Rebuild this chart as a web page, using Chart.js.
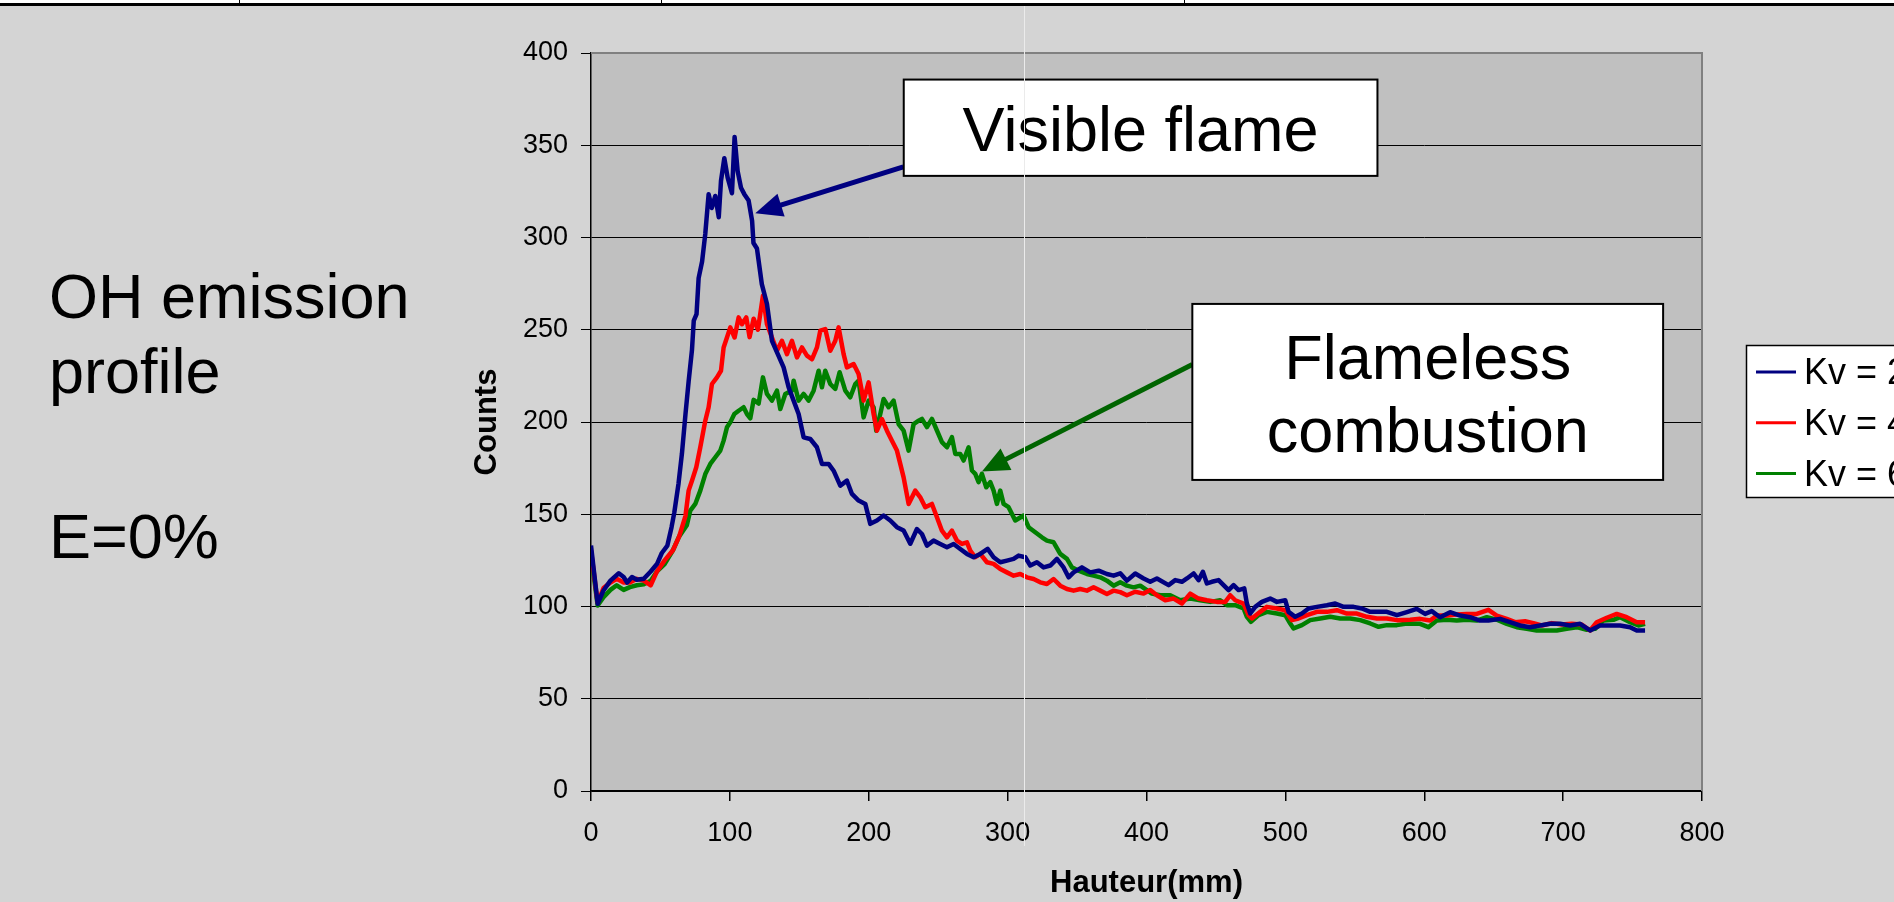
<!DOCTYPE html>
<html lang="fr">
<head>
<meta charset="UTF-8">
<title>OH emission profile</title>
<script src="https://cdn.jsdelivr.net/npm/chart.js"></script>
<style>
  html, body { margin: 0; padding: 0; }
  body {
    width: 1894px; height: 902px; overflow: hidden; position: relative;
    background: #d4d4d4;
    font-family: "Liberation Sans", Arial, sans-serif;
  }
  #topStrip { position: absolute; left: 0; top: 0; width: 1894px; height: 3px; background: #fff; }
  #topLine { position: absolute; left: 0; top: 3px; width: 1894px; height: 3px; background: #000; }
  .cellEdge { position: absolute; top: 0; width: 1px; height: 4px; background: #000; }
  #chartBox { position: absolute; left: 0; top: 0; width: 1894px; height: 902px; }
  .side { position: absolute; left: 49px; font-size: 63px; line-height: 75px; color: #000; white-space: nowrap; }
  #seam { position: absolute; left: 1024px; top: 6px; width: 1px; height: 840px; background: #ebebeb; }
</style>
</head>
<body>
  <div id="topStrip"></div>
  <div id="topLine"></div>
  <div class="cellEdge" style="left:239px"></div>
  <div class="cellEdge" style="left:661px"></div>
  <div class="cellEdge" style="left:1184px"></div>

  <div class="side" style="top:259px">OH emission<br>profile</div>
  <div class="side" style="top:499px">E=0%</div>

  <div id="chartBox"><canvas id="ohChart"></canvas></div>
  <div id="seam"></div>

<script>
// series labels and colours
const seriesNames = ['Kv = 2', 'Kv = 4', 'Kv = 6'];
const seriesColors = ['#000080', '#ff0000', '#008000'];

// Kv = 2
const kv2X = [0,4.8,9,14,20,23.5,26,29.5,33,38,43,47.5,51,55,58,60,63,65.5,68,70.3,72.7,74,76,77.5,80,82.3,84.7,87,89.5,92,93.6,96,98.4,101.5,103.4,105.6,108,110.4,113.5,116,117,119.5,123,126.7,130.3,138.7,142.3,145.9,149.5,153.1,157.9,162.7,166.3,171.1,174.7,179.5,184.3,187.9,192.7,197.5,201.1,205.9,210.7,215.5,220.3,225.1,229.9,234.7,238.3,241.9,246.7,251.5,256.3,261.1,265.9,270.7,275.5,280.3,285.6,289.9,294.7,299.5,304.3,307.9,312.7,316.3,321.1,325.9,330.7,335.5,340.3,343.9,347.5,353.5,359.5,365.5,371.5,376.3,381.1,385.9,391.9,397.9,402.7,407.5,415.9,420.7,425.5,429.1,433.9,437.5,440.6,443.5,447.1,451.9,455.5,459.1,462.7,466.3,470.4,472.3,474.7,478.3,483.1,489.1,493.9,499.9,502.3,507.1,511.9,516.7,522.7,529.9,535.9,541.9,549.1,555.1,561.1,567.1,573.1,580.3,587.5,594.6,600.6,605.4,611.4,618.6,625.8,633,640.2,646.2,654.6,661.8,669,676.2,683.4,690.6,697.8,705,712.2,719.4,726.6,733.8,741,748.2,753,759];
const kv2Y = [133,101.5,108.7,114,118,116,113,116,114.5,115,119,123,129,133,143,151,166.5,183,204,222,239,255,258.5,278,287,302,323.5,316,322.5,311,330.7,343,332.5,324,354.5,336,327,323.5,320,309,297,294,274.7,264,244,229.6,218.8,211.6,204.3,191.7,190.8,186.3,177.3,177.3,173.6,165.5,168.2,161,157.4,155.6,144.8,146.6,149.3,146.6,143,141.2,134,142,139.3,133,135.7,133.9,132.1,133.9,131.2,128.5,126.7,128.5,131.2,126.7,124,124.9,125.8,127.6,126.7,122.2,124,121.2,122.2,125.8,121.2,115.8,118.5,121.2,118.5,119.4,117.6,116.7,118,114,117.9,115.2,113.4,115.2,111.6,114.3,113.4,115.2,117.9,114.3,118.8,112.5,113.4,114.3,111.6,108.9,111.6,108.9,109.8,101.6,96.2,99.8,102.5,104.3,102.5,103.4,97.1,94.4,96.2,98.9,99.8,100.7,101.6,99.8,99.8,98.9,97.1,97.1,97.1,95.3,97,98.7,96,97.5,94.2,96.9,95.1,94.2,92.4,92.4,93.3,91.5,89.7,88.8,89.7,90.6,90.6,89.7,90.6,87,89.7,89.7,89.7,88.8,87,87];

// Kv = 4
const kv4X = [0,4.8,9,14,18.5,23.5,28,33,38,43,47.5,53,59,63.5,68,70.3,72.7,75.8,78.7,82.3,84.7,87.1,90.7,93.6,95.5,97.9,100.3,103.4,106.3,108.7,111.8,114.2,117.1,120.2,123.8,126.7,130.3,133.9,137.5,141.1,144.7,148.3,151.9,155.5,159.1,162.7,165.1,168.7,172.3,175.9,178.3,181.9,184.3,189.1,192.7,196.3,199.9,203.5,205.9,209.5,213.1,216.7,220.3,222.7,225.1,228.7,233.5,237.1,240.7,245.5,249.1,252.7,256.3,259.9,263.5,267.1,270.7,273.1,276.7,280.3,285.1,289.9,294.7,299.5,304.3,309.1,313.9,318.7,323.5,328.3,333.1,337.9,342.7,347.5,352.3,357.1,361.9,366.7,371.5,376.3,381.1,385.9,391.9,397.9,402.7,407.5,413.5,419.5,425.5,431.5,437.5,443.5,450.7,456.7,460.3,463.9,469.9,473.5,475.9,481.9,486.7,493.9,499.9,504.7,509.5,515.5,522.7,529.9,537.1,544.3,551.5,558.7,565.9,573.1,580.3,589.8,597,604.2,609,616.2,623.4,630.6,637.8,646.2,652.2,659.4,665.4,672.6,678.6,684.6,691.8,699,706.2,713.4,719.4,724.2,731.4,738.6,745.8,753,759];
const kv4Y = [130.5,102,110,113,115,113,113,115,114,111.5,119,125,130.5,138,149,162.8,168.2,175.5,186.3,200.7,208,220.6,224.2,227.8,240.4,245.8,251.3,245.8,256.7,253,256.7,246,256,250,268.4,253,245.8,238.6,244,236.8,244,235,240.4,236,234,240.4,249.5,250.4,238.6,244,251.3,236.8,229.6,231.4,226,211.6,221.5,204.3,195.3,201.6,195.3,189.9,184.5,177.3,170,155.6,162.8,159.2,153.8,155.6,148.4,141.1,137.5,141.1,135.7,133.9,134.8,130.3,126.7,128.5,124,123.1,120.3,118.5,116.7,117.6,115.8,114.9,113.1,112.2,114.9,111.3,109.5,108.6,109.5,108.6,110.4,108.6,106.8,108.6,107.8,106.1,108,107,108.9,106.1,103.4,104.3,101.6,107,104.3,103.4,102.5,102.5,106.1,103.4,101.6,95.3,93.5,97.1,99.8,98.9,98,92.6,93.5,95.3,97.1,97.1,98,96.2,96.2,94.4,93.5,93.5,92.6,92.8,93.3,92.4,95.1,95.1,95.7,96,96,98.2,95.1,93.3,91.5,92,91,89.7,91,90.2,90.6,90.2,87,91.5,93.9,96,94.2,91.5,91.5];

// Kv = 6
const kv6X = [0,4.8,9,14,18.5,23.5,28,33,38,43,47.5,53,59,63.5,69,71.5,75.1,78.7,82.3,85.9,89.5,93.1,95.5,97.9,100.3,103.2,106.3,109.9,112.3,114.7,117.1,120.7,123.8,126.7,130.3,133.9,136.3,139.9,144.7,145.9,149.5,153.1,156.7,160.3,163.9,166.3,168.7,172.3,175.9,179,183.1,186.7,190.3,192.7,196.3,199.9,203.5,205.4,208.3,210.7,214.3,217.9,221.5,225.1,228.7,232.3,235.9,238.3,241.9,245.5,249.1,252.7,256.3,259.9,262.3,265.9,268.3,271.9,274.3,276.7,279.1,281.5,284.6,287.5,289.9,292.3,294.7,297.1,300.7,305.5,311.5,315.1,319.9,324.7,328.3,333.1,337.9,342.7,346.3,351.1,357.1,361.9,366.7,371.5,376.3,381.1,385.9,390.7,395.5,403.9,409.9,417.1,424.3,431.5,438.7,445.9,453.1,457.9,463.9,469.9,472.3,475.2,480.7,486.7,493.9,499.9,503.5,505.9,511.9,517.9,525.1,532.3,539.5,546.7,553.9,561.1,567.1,573.1,580.3,587.5,597,603,609,616.2,623.4,630.6,637.8,645,652.2,659.4,666.6,673.8,681,688.2,695.4,702.6,709.8,717,723,729,736.2,741,748.2,754.2,759];
const kv6Y = [128,100.5,105,109,111.5,109,110.5,111.5,112,114,119,123,130.5,138,144,152,155.6,162.8,171.8,177.3,180.9,184.5,189.9,197.1,199.8,204.3,206.1,208,204.3,202,212,210,224.2,215.2,211.6,217,207,215.2,217,222.4,211.6,215.2,211.6,217,227.8,218.8,227.8,220.6,217.9,227,217,213.4,220.6,222.4,202.5,211.6,208,195.3,204.3,212.5,208,211.6,198.9,195.3,184.5,198.9,200.7,201.7,197.2,201.7,195.4,189.1,186.3,191.8,182.7,182.7,179.1,186.3,173.7,171.9,167.4,171.9,164.6,167.4,162.8,155.6,162.8,155.6,153.8,146.6,149.3,143,140.2,137.5,135.7,134.8,128.5,125.8,121.2,119.4,117.6,116.7,115.8,114,111.3,113.1,111.3,110.4,111.3,107,106.1,106.1,103.4,104.3,103.4,102.5,103.4,100.7,100.7,98.9,94.4,91.7,95.3,97.1,96.2,95.3,90.8,88.1,89.9,92.6,93.5,94.4,93.5,93.5,92.6,90.8,89,89.9,89.9,90.8,90.6,88.8,92.4,92.8,92.4,92.8,92.4,94.2,92.8,90.6,88.8,87.9,87,87,87,87.9,88.8,87.4,87.9,92.4,92.8,94.2,91.5,89.7,90.6];

// axis ticks
const xTicks = [0, 100, 200, 300, 400, 500, 600, 700, 800];
const yTicks = [0, 50, 100, 150, 200, 250, 300, 350, 400];

// callouts, in data units
const callouts = [
  { lines: ['Visible flame'], x0: 225.2, x1: 566.3, y0: 385.6, y1: 333.4,
    arrow: { from: [224.9, 338.3], to: [118.3, 313.2], color: '#000080' } },
  { lines: ['Flameless', 'combustion'], x0: 433.0, x1: 772.0, y0: 264.0, y1: 168.6,
    arrow: { from: [433.0, 231.2], to: [281.5, 173.2], color: '#006400' } }
];

const FONT = '"Liberation Sans", Arial, sans-serif';

function toPoints(xs, ys) {
  return xs.map((x, i) => ({ x: x, y: ys[i] }));
}

const plotFrame = {
  id: 'plotFrame',
  beforeDraw(chart) {
    const a = chart.chartArea, ctx = chart.ctx;
    ctx.save();
    ctx.fillStyle = '#c0c0c0';
    ctx.fillRect(a.left, a.top, a.right - a.left, a.bottom - a.top);
    ctx.restore();
  },
  beforeDatasetsDraw(chart) {
    const a = chart.chartArea, ctx = chart.ctx;
    ctx.save();
    ctx.strokeStyle = '#808080';
    ctx.lineWidth = 2;
    ctx.beginPath();
    ctx.moveTo(a.left, a.top);
    ctx.lineTo(a.right, a.top);
    ctx.lineTo(a.right, a.bottom);
    ctx.stroke();
    ctx.restore();
  }
};

function drawArrow(ctx, x1, y1, x2, y2, color) {
  const dx = x2 - x1, dy = y2 - y1;
  const len = Math.hypot(dx, dy);
  const ux = dx / len, uy = dy / len;
  const headLen = 27, headHalf = 12;
  const bx = x2 - ux * headLen, by = y2 - uy * headLen;
  ctx.strokeStyle = color;
  ctx.fillStyle = color;
  ctx.lineWidth = 5;
  ctx.beginPath();
  ctx.moveTo(x1, y1);
  ctx.lineTo(bx + ux * 2, by + uy * 2);
  ctx.stroke();
  ctx.beginPath();
  ctx.moveTo(x2, y2);
  ctx.lineTo(bx - uy * headHalf, by + ux * headHalf);
  ctx.lineTo(bx + uy * headHalf, by - ux * headHalf);
  ctx.closePath();
  ctx.fill();
}

const extras = {
  id: 'extras',
  afterDraw(chart) {
    const ctx = chart.ctx, xs = chart.scales.x, ys = chart.scales.y;
    ctx.save();
    // callout boxes and arrows
    callouts.forEach(c => {
      const a = c.arrow;
      drawArrow(ctx, xs.getPixelForValue(a.from[0]), ys.getPixelForValue(a.from[1]),
        xs.getPixelForValue(a.to[0]), ys.getPixelForValue(a.to[1]), a.color);
      const l = xs.getPixelForValue(c.x0), r = xs.getPixelForValue(c.x1);
      const t = ys.getPixelForValue(c.y0), b = ys.getPixelForValue(c.y1);
      ctx.fillStyle = '#fff';
      ctx.fillRect(l, t, r - l, b - t);
      ctx.strokeStyle = '#000';
      ctx.lineWidth = 2;
      ctx.strokeRect(l, t, r - l, b - t);
      ctx.fillStyle = '#000';
      ctx.font = '63px ' + FONT;
      ctx.textAlign = 'center';
      ctx.textBaseline = 'middle';
      const lh = 73, cy = (t + b) / 2 - (c.lines.length - 1) * lh / 2;
      c.lines.forEach((s, i) => ctx.fillText(s, (l + r) / 2, cy + i * lh + 6));
    });

    // legend (runs off the right edge like the original)
    const lx = 1746, ly = 345, lw = 200, lh = 152;
    ctx.fillStyle = '#fff';
    ctx.fillRect(lx, ly, lw, lh);
    ctx.strokeStyle = '#000';
    ctx.lineWidth = 1.5;
    ctx.strokeRect(lx + 0.5, ly + 0.5, lw, lh);
    ctx.font = '36px ' + FONT;
    ctx.textAlign = 'left';
    ctx.textBaseline = 'middle';
    chart.data.datasets.forEach((ds, i) => {
      const y = ly + 27 + i * 50.8;
      ctx.strokeStyle = ds.borderColor;
      ctx.lineWidth = 3;
      ctx.beginPath();
      ctx.moveTo(lx + 10, y);
      ctx.lineTo(lx + 50, y);
      ctx.stroke();
      ctx.fillStyle = '#000';
      ctx.fillText(ds.label, lx + 58, y + 2);
    });
    ctx.restore();
  }
};

new Chart(document.getElementById('ohChart'), {
  type: 'line',
  data: {
    datasets: [
      { label: seriesNames[0], data: toPoints(kv2X, kv2Y), borderColor: seriesColors[0] },
      { label: seriesNames[1], data: toPoints(kv4X, kv4Y), borderColor: seriesColors[1] },
      { label: seriesNames[2], data: toPoints(kv6X, kv6Y), borderColor: seriesColors[2] }
    ]
  },
  options: {
    responsive: true,
    maintainAspectRatio: false,
    animation: false,
    events: [],
    elements: {
      line: { borderWidth: 4.5, tension: 0, fill: false, borderJoinStyle: 'round' },
      point: { radius: 0 }
    },
    layout: { padding: { left: 469, top: 53, right: 192, bottom: 0 } },
    plugins: { legend: { display: false }, tooltip: { enabled: false } },
    scales: {
      x: {
        type: 'linear', min: 0, max: 800,
        afterBuildTicks: s => { s.ticks = xTicks.map(v => ({ value: v })); },
        afterFit: s => { s.height = 111; },
        ticks: { color: '#000', font: { family: FONT, size: 27 }, padding: 16, maxRotation: 0 },
        grid: { drawOnChartArea: false, drawTicks: true, tickLength: 10, color: '#000', lineWidth: 1.5 },
        border: { color: '#000', width: 1.5 },
        title: { display: true, text: 'Hauteur(mm)', color: '#000', padding: 0,
                 font: { family: FONT, size: 31, weight: 'bold' } }
      },
      y: {
        type: 'linear', min: 0, max: 400,
        afterBuildTicks: s => { s.ticks = yTicks.map(v => ({ value: v })); },
        afterFit: s => { s.width = 122; },
        ticks: { color: '#000', font: { family: FONT, size: 27 }, padding: 13 },
        grid: { color: '#000', lineWidth: 1, tickLength: 10 },
        border: { color: '#000', width: 1.5 },
        title: { display: true, text: 'Counts', color: '#000', padding: 0,
                 font: { family: FONT, size: 31, weight: 'bold' } }
      }
    }
  },
  plugins: [plotFrame, extras]
});
</script>
</body>
</html>
